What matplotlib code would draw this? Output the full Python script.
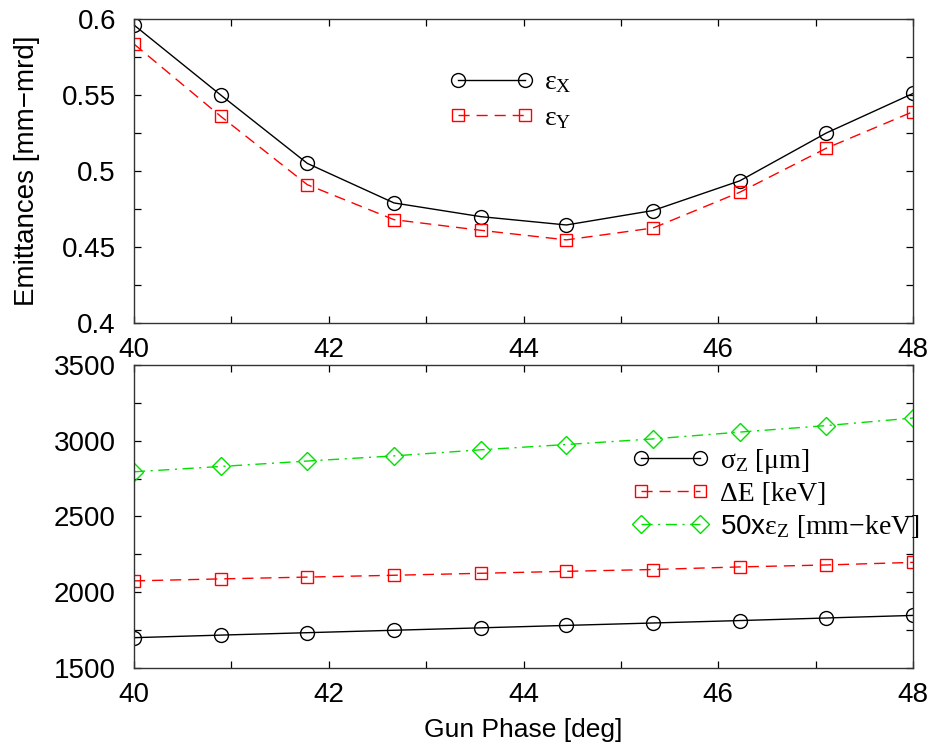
import numpy as np
import matplotlib
matplotlib.use("Agg")
import matplotlib.pyplot as plt
from matplotlib.ticker import MultipleLocator

# gun phase scan, 10 settings between 40 and 48 deg
phase = [40.0, 40.89, 41.78, 42.67, 43.56, 44.44, 45.33, 46.22, 47.11, 48.0]

# transverse emittances [mm-mrd]
eps_x = [0.596, 0.550, 0.505, 0.479, 0.470, 0.4645, 0.474, 0.4935, 0.525, 0.551]
eps_y = [0.5835, 0.536, 0.491, 0.468, 0.461, 0.4547, 0.4625, 0.486, 0.515, 0.539]

# longitudinal quantities
sigma_z = [1700, 1717, 1733, 1749, 1765, 1781, 1797, 1813, 1830, 1847]
delta_e = [2075, 2088, 2100, 2112, 2125, 2138, 2150, 2167, 2180, 2197]
eps_z50 = [2795, 2830, 2866, 2900, 2940, 2975, 3012, 3057, 3100, 3150]

plt.rcParams.update({
    "font.family": "Liberation Sans",
    "mathtext.fontset": "custom",
    "mathtext.rm": "Liberation Serif",
    "mathtext.it": "Liberation Serif:italic",
    "mathtext.sf": "Liberation Sans",
    "axes.linewidth": 1.0,
})

RED = "#ff0000"
GREEN = "#00e000"
TICK_FS = 20
LEG_FS = 20

fig = plt.figure(figsize=(9.32, 7.53), dpi=100)
ax1 = fig.add_axes([0.1438, 0.5710, 0.9796 - 0.1438, 0.9748 - 0.5710])
ax2 = fig.add_axes([0.1438, 0.1129, 0.9796 - 0.1438, 0.5153 - 0.1129])


def style(ax):
    ax.tick_params(which="both", direction="in", top=True, right=True,
                   length=5, width=0.9, labelsize=TICK_FS)
    ax.tick_params(axis="y", pad=13)
    ax.tick_params(axis="x", pad=10)
    ax.xaxis.set_major_locator(MultipleLocator(2))
    ax.xaxis.set_minor_locator(MultipleLocator(1))
    ax.set_xlim(40, 48)
    for s in ax.spines.values():
        s.set_color("#333333")


mk = dict(markerfacecolor="none", linewidth=1.0, markeredgewidth=1.0)
leg_kw = dict(bbox_transform=fig.transFigure, frameon=False, numpoints=2,
              handletextpad=0.4, borderaxespad=0,
              prop={"family": "Liberation Serif", "size": LEG_FS})

# top: transverse emittances
ax1.plot(phase, eps_x, "-", color="black", marker="o", markersize=10,
         label=r"ε$_\mathrm{X}$", **mk)
ax1.plot(phase, eps_y, color=RED, linestyle=(0, (8, 5)), marker="s",
         markersize=8, label=r"ε$_\mathrm{Y}$", **mk)
ax1.set_ylim(0.4, 0.6)
ax1.yaxis.set_major_locator(MultipleLocator(0.05))
ax1.yaxis.set_minor_locator(MultipleLocator(0.025))
ax1.set_yticklabels([f"{v:g}" for v in ax1.get_yticks()])
style(ax1)
ax1.set_ylabel("Emittances [mm\u2212mrd]", fontsize=TICK_FS, labelpad=16)
ax1.legend(loc="upper left", bbox_to_anchor=(0.4705, 0.9216),
           handlelength=3.0, labelspacing=0.35, **leg_kw)

# bottom: longitudinal quantities
ax2.plot(phase, sigma_z, "-", color="black", marker="o", markersize=10,
         label=r"σ$_\mathrm{Z}$ [μm]", **mk)
ax2.plot(phase, delta_e, color=RED, linestyle=(0, (8, 5)), marker="s",
         markersize=8, label="ΔE [keV]", **mk)
ax2.plot(phase, eps_z50, color=GREEN, linestyle=(0, (8, 4, 1.5, 4)),
         marker="D", markersize=9, label=r"$\mathsf{50x}$ε$_\mathrm{Z}$ [mm−keV]",
         **mk)
ax2.set_ylim(1500, 3500)
ax2.yaxis.set_major_locator(MultipleLocator(500))
ax2.yaxis.set_minor_locator(MultipleLocator(250))
style(ax2)
ax2.set_xlabel("Gun Phase [deg]", fontsize=19, labelpad=7)
ax2.legend(loc="upper left", bbox_to_anchor=(0.6665, 0.421),
           handlelength=2.75, labelspacing=0.2, **leg_kw)

fig.savefig("out.png", dpi=100)
